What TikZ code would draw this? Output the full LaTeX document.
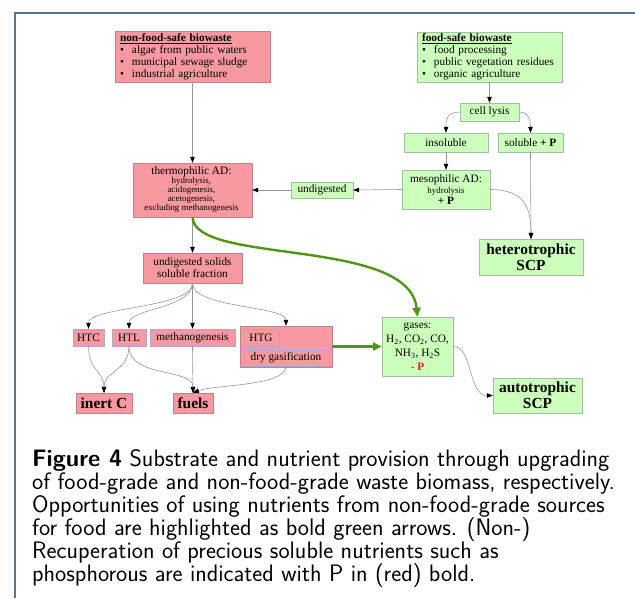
\documentclass[tikz,border=0pt]{standalone}
\usepackage{fontspec}
\newfontfamily\diafont{Liberation Serif}
\usetikzlibrary{arrows.meta}
\definecolor{pinkfill}{RGB}{248,152,160}
\definecolor{pinkline}{RGB}{190,130,140}
\definecolor{greenfill}{RGB}{204,255,187}
\definecolor{greenline}{RGB}{160,190,160}
\definecolor{lilacline}{RGB}{180,165,205}
\definecolor{linegray}{RGB}{150,150,150}
\definecolor{boldgreen}{RGB}{80,150,20}
\definecolor{framecol}{RGB}{85,115,150}
\definecolor{pred}{RGB}{235,30,30}
\newcommand\smalltxt{\fontsize{8.9}{9.2}\selectfont}
\newcommand\itm{\makebox[12pt][l]{\textbullet}}

\begin{document}
\begin{tikzpicture}
  [
    x=1pt, y=-1pt,
    cell/.style={inner sep=0pt, align=center,
    font=\diafont\fontsize{11.3}{12}\selectfont},
    pcell/.style={cell, draw=pinkline, fill=pinkfill},
    gcell/.style={cell, draw=greenline, fill=greenfill},
    big/.style={font=\diafont\bfseries\fontsize{15.4}{16}\selectfont},
    ld/.style={draw=linegray, line width=0.6pt,
    -{Triangle[length=6pt,width=4.5pt,color=black]}},
    gld/.style={draw=boldgreen, line width=2.4pt, -{Triangle[length=9pt,width=8pt]}}
  ]
  \useasboundingbox (0,0) rectangle (635,598);
  \draw [framecol, line width=1.5pt] (15,598) -- (15,13) -- (635,13);

  \node (bNonfood)  at (192.5, 56.5) [pcell, minimum width=155, minimum height=51, text width=145, align=left]
    {\underline{\textbf{non-food-safe biowaste}}\\
     \itm algae from public waters\\
     \itm municipal sewage sludge\\
     \itm industrial agriculture};
  \node (bFoodsafe) at (489.5, 57) [gcell, minimum width=145, minimum height=50, text width=135, align=left]
    {\underline{\textbf{food-safe biowaste}}\\
     \itm food processing\\
     \itm public vegetation residues\\
     \itm organic agriculture};

  \node (bLysis)  at (489.5,112)   [gcell, minimum width=59, minimum height=18] {cell lysis};
  \node (bInsol)  at (446,142.5)   [gcell, minimum width=84, minimum height=19] {insoluble};
  \node (bSol)    at (530.5,142.5) [gcell, minimum width=65, minimum height=19] {soluble \textbf{+ P}};
  \node (bMeso)   at (446,189.5)   [gcell, minimum width=88, minimum height=39, font=\diafont\fontsize{11.3}{11}\selectfont]
    {mesophilic AD:\\ {\smalltxt hydrolysis}\\ \textbf{+ P}};
  \node (bUndig)  at (322,190)     [gcell, minimum width=62, minimum height=16] {undigested};
  \node (bThermo) at (192.5,190)   [pcell, minimum width=119, minimum height=54]
    {\smalltxt
     \begin{tabular}{@{}c@{}}
       {\fontsize{11.3}{12}\selectfont thermophilic AD:} \\
       hydrolysis, \\
       acidogenesis, \\
       acetogenesis, \\
       excluding methanogenesis
     \end{tabular}
    };
  \node (bHetero) at (531,257)     [gcell, big, minimum width=104, minimum height=36] {heterotrophic\\ SCP};
  \node (bSolids) at (192.5,268)   [pcell, minimum width=99, minimum height=30] {undigested solids\\ soluble fraction};

  \node (bHTC)     at (88.5,337.5)  [pcell, draw=lilacline, minimum width=31, minimum height=17] {HTC};
  \node (bHTL)     at (129,337.5)   [pcell, draw=lilacline, minimum width=34, minimum height=17] {HTL};
  \node (bMethano) at (192.5,337.5) [pcell, draw=lilacline, minimum width=85, minimum height=17] {methanogenesis};
  \node (bHTGouter) at (286,346.5)  [pcell, minimum width=92, minimum height=41] {};
  \node (bHTG)     at (261,337.5)   [pcell, draw=lilacline, minimum width=36, minimum height=17] {HTG};
  \node (bDry)     at (286,358)     [pcell, draw=lilacline, minimum width=86, minimum height=16] {dry gasification};

  \node (bGases) at (417.5,346.5) [gcell, minimum width=71, minimum height=59, font=\diafont\fontsize{11.3}{14}\selectfont]
    {gases:\\ H\textsubscript{2}, CO\textsubscript{2}, CO,\\ NH\textsubscript{3}, H\textsubscript{2}S\\
     \textcolor{pred}{\textbf{- P}}};
  \node (bInert) at (104,403)     [pcell, big, minimum width=56, minimum height=20] {inert C};
  \node (bFuels) at (193,403)     [pcell, big, minimum width=40, minimum height=20] {fuels};
  \node (bAuto)  at (537.5,395.5) [gcell, big, minimum width=89, minimum height=35] {autotrophic\\ SCP};

  \node (cCaption) at (32,449) [anchor=north west, inner sep=0pt, align=left,
    font=\sffamily\fontsize{23.8}{23}\selectfont]
    {\textbf{Figure 4} Substrate and nutrient provision through upgrading\\
     of food-grade and non-food-grade waste biomass, respectively.\\
     Opportunities of using nutrients from non-food-grade sources\\
     for food are highlighted as bold green arrows. (Non-)\\
     Recuperation of precious soluble nutrients such as\\
     phosphorous are indicated with P in (red) bold.};

  \draw [ld] (bNonfood.south) -- (bThermo.north);
  \draw [ld] (bFoodsafe.south) -- (bLysis.north);
  \draw [ld] (bLysis.west) .. controls +(-14,0) and +(0,-12) .. (bInsol.north);
  \draw [ld] (bLysis.east) .. controls +(10,0) and +(0,-12) .. (bSol.north);
  \draw [ld] (bInsol.south) -- (bMeso.north);
  \draw [ld] (bMeso.west) -- (bUndig.east);
  \draw [ld] (bUndig.west) -- (bThermo.east);
  \draw [ld] (bSol.south) -- (bHetero.north);
  \draw [ld] (bMeso.east) .. controls +(35,0) and +(0,-30) .. (bHetero.north);
  \draw [ld] (bThermo.south) -- (bSolids.north);

  \draw [ld] (bSolids.south) .. controls +(0,25) and +(0,-22) .. (bHTC.north);
  \draw [ld] (bSolids.south) .. controls +(0,25) and +(0,-20) .. (bHTL.north);
  \draw [ld] (bSolids.south) -- (bMethano.north);
  \draw [ld] (bSolids.south) .. controls +(0,25) and +(0,-20) .. (bHTGouter.north);

  \draw [ld] (bHTC.south) .. controls +(0,25) and +(0,-22) .. (bInert.north);
  \draw [ld] (bHTL.south) .. controls +(0,25) and +(0,-22) .. (bInert.north);
  \draw [ld] (bHTL.south) .. controls +(0,32) and +(0,-25) .. (bFuels.north);
  \draw [ld] (bMethano.south) -- (bFuels.north);
  \draw [ld] (bDry.south) .. controls +(0,20) and +(20,-8) .. (bFuels.north);
  \draw [ld] (bGases.east) .. controls +(20,0) and +(-25,0) .. (bAuto.west);

  \draw [gld] (bThermo.south) .. controls +(2,48) and +(-8,-80) .. (bGases.north);
  \draw [gld] (bHTGouter.east) -- (bGases.west);
\end{tikzpicture}
\end{document}
